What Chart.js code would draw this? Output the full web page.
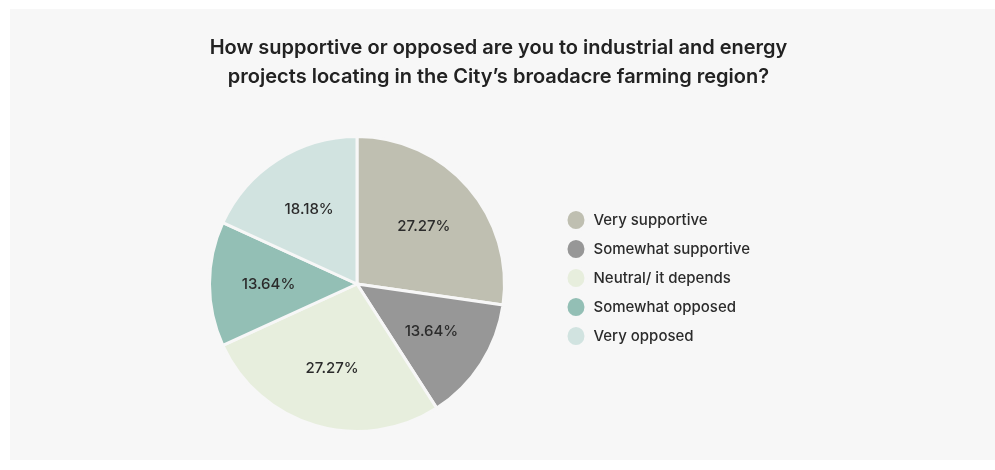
<!DOCTYPE html>
<html>
<head>
<meta charset="utf-8">
<script src="https://cdn.jsdelivr.net/npm/chart.js@4/dist/chart.umd.min.js"></script>
<style>
  html, body { margin: 0; padding: 0; background: #ffffff; }
  #panel {
    position: absolute; left: 10px; top: 9px;
    width: 985px; height: 451px;
    background: #f7f7f7;
  }
</style>
</head>
<body>
<div id="panel">
  <canvas id="myChart" width="985" height="451"></canvas>
</div>
<script>
// survey answers
var categories = ['Very supportive', 'Somewhat supportive', 'Neutral/ it depends', 'Somewhat opposed', 'Very opposed'];
var shares = [27.27, 13.64, 27.27, 13.64, 18.18];
var sliceColors = ['#bfbfb1', '#979797', '#e7eedd', '#93bfb5', '#d1e3e0'];
var chartTitle = ['How supportive or opposed are you to industrial and energy', 'projects locating in the City\u2019s broadacre farming region?'];

// writes the percentage inside each slice
var sliceLabels = {
    id: 'sliceLabels',
    afterDatasetsDraw: function (chart) {
        var ctx = chart.ctx;
        var meta = chart.getDatasetMeta(0);
        ctx.save();
        ctx.font = '500 15px Inter';
        ctx.fillStyle = '#2b2b2b';
        ctx.textAlign = 'center';
        ctx.textBaseline = 'middle';
        meta.data.forEach(function (arc, i) {
            var mid = (arc.startAngle + arc.endAngle) / 2;
            var r = arc.outerRadius * 0.6;
            var x = arc.x + Math.cos(mid) * r;
            var y = arc.y + Math.sin(mid) * r;
            ctx.fillText(shares[i].toFixed(2) + '%', x, y);
        });
        ctx.restore();
    }
};

// the side padding pushes the pie left; keep the title centred on the whole
// canvas and lift the legend a little
var fixBoxes = {
    id: 'fixBoxes',
    afterLayout: function (chart) {
        var t = chart.titleBlock;
        if (t) {
            t.left = 0;
            t.right = 977;
            t.width = 977;
        }
        var lg = chart.legend;
        if (lg) {
            lg.top -= 6;
            lg.bottom -= 6;
        }
    }
};

var ctx = document.getElementById('myChart');
var myChart = new Chart(ctx, {
    type: 'pie',
    data: {
        labels: categories,
        datasets: [{
            data: shares,
            backgroundColor: sliceColors,
            borderColor: '#f7f7f7',
            borderWidth: 3
        }]
    },
    options: {
        responsive: false,
        animation: false,
        layout: {
            padding: { left: 152, right: 235, top: 12, bottom: 27 }
        },
        plugins: {
            title: {
                display: true,
                text: chartTitle,
                color: '#222222',
                font: { family: 'Inter', size: 20, weight: '600', lineHeight: 1.45 },
                padding: { top: 12, bottom: 44 }
            },
            legend: {
                position: 'right',
                fullSize: false,
                labels: {
                    usePointStyle: true,
                    pointStyle: 'circle',
                    pointStyleWidth: 20,
                    boxHeight: 20,
                    padding: 14,
                    color: '#2b2b2b',
                    font: { family: 'Inter', size: 15, weight: '500' }
                }
            },
            tooltip: { enabled: false }
        }
    },
    plugins: [sliceLabels, fixBoxes]
});
</script>
</body>
</html>
